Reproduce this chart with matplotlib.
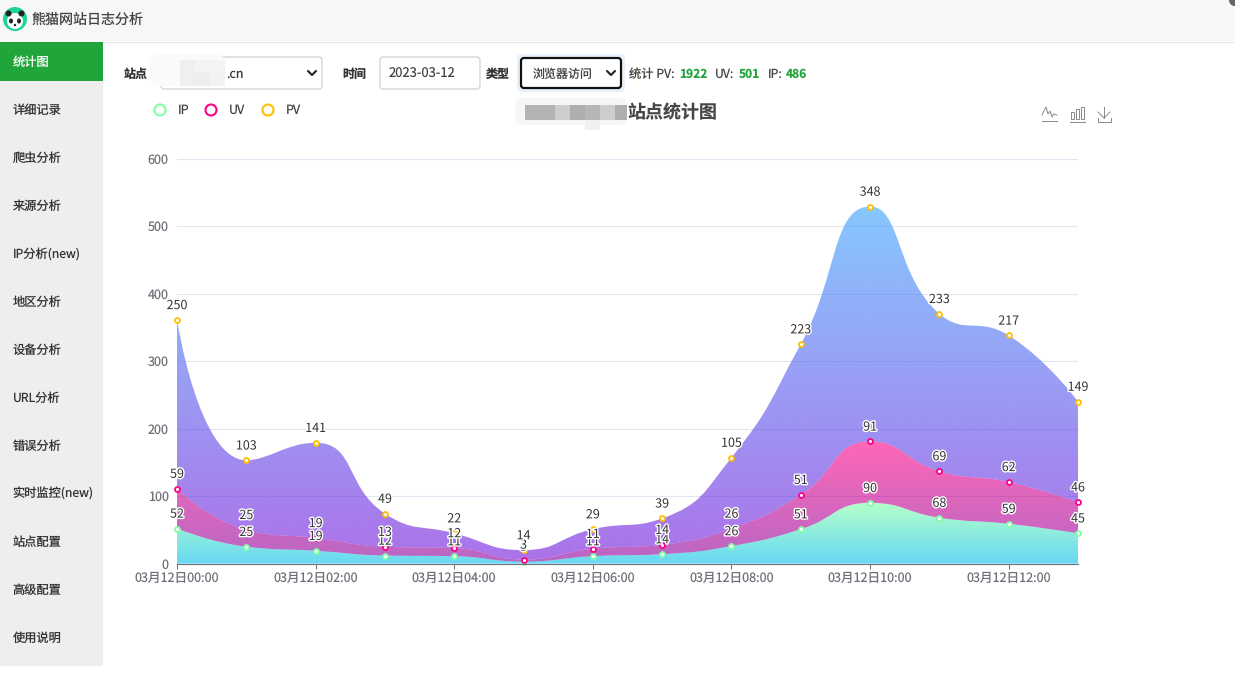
import numpy as np
import matplotlib
matplotlib.use("Agg")
import matplotlib.pyplot as plt
import matplotlib.patheffects as pe
from matplotlib.path import Path
from matplotlib.patches import PathPatch, Rectangle, Circle, FancyBboxPatch, Ellipse

plt.rcParams['font.family'] = ['Noto Sans CJK SC', 'DejaVu Sans']
plt.rcParams['text.hinting'] = 'no_hinting'
plt.rcParams['text.hinting_factor'] = 1

# ---------- data ----------
hours = ["03月12日%02d:00" % h for h in range(14)]
ip_vals = [52, 25, 19, 12, 11, 3, 11, 14, 26, 51, 90, 68, 59, 45]
uv_vals = [59, 25, 19, 13, 12, 3, 11, 14, 26, 51, 91, 69, 62, 46]
pv_vals = [250, 103, 141, 49, 22, 14, 29, 39, 105, 223, 348, 233, 217, 149]
y_ticks = [0, 100, 200, 300, 400, 500, 600]
menu_items = ["统计图", "详细记录", "爬虫分析", "来源分析", "IP分析(new)", "地区分析", "设备分析",
              "URL分析", "错误分析", "实时监控(new)", "站点配置", "高级配置", "使用说明"]
series_names = ["IP", "UV", "PV"]
line_colors = ["#80FFA5", "#FF0087", "#FFBF00"]
grad_top = [(128, 255, 165), (255, 0, 135), (55, 162, 255)]
grad_bot = [(1, 191, 236), (135, 0, 157), (116, 21, 219)]
area_alpha = 0.6

W, H = 1235, 691
fig = plt.figure(figsize=(W / 100, H / 100), dpi=100, facecolor="white")

# ---------- page overlay in pixel coordinates ----------
ui = fig.add_axes([0, 0, 1, 1], zorder=0)
ui.set_xlim(0, W)
ui.set_ylim(H, 0)
ui.axis("off")

def rect(x0, y0, x1, y1, fc, ec="none", lw=0, z=1):
    ui.add_patch(Rectangle((x0, y0), x1 - x0, y1 - y0, fc=fc, ec=ec, lw=lw, zorder=z))

def rbox(x0, y0, x1, y1, fc="white", ec="#cccccc", lw=0.8, r=3, z=2):
    ui.add_patch(FancyBboxPatch((x0 + r, y0 + r), x1 - x0 - 2 * r, y1 - y0 - 2 * r,
                                boxstyle="round,pad=%g,rounding_size=%g" % (r, r),
                                fc=fc, ec=ec, lw=lw, zorder=z))

def txt(x, y, s, size=12.2, color="#333333", weight="normal", ha="left", z=5):
    ui.text(x, y, s, fontsize=size * 0.72, color=color, fontweight=weight, ha=ha, va="center", zorder=z)

def chevron(cx, cy):
    ui.plot([cx - 4, cx, cx + 4], [cy - 2, cy + 2, cy - 2], color="#222222", lw=1.5, zorder=6,
            solid_capstyle="round", solid_joinstyle="round")

# header
rect(0, 0, W, 41, "#f7f7f7")
ui.plot([0, W], [41.5, 41.5], color="#e8e8e8", lw=0.8, zorder=2)
txt(31, 19.5, "熊猫网站日志分析", size=14, color="#444444")
# logo
ui.add_patch(Circle((15, 19), 12, fc="#1fd49a", ec="none", zorder=3))
ui.add_patch(Circle((15, 21), 8, fc="white", ec="none", zorder=4))
for cx in (8.5, 21.5):
    ui.add_patch(Circle((cx, 13.5), 3, fc="#222222", ec="none", zorder=5))
for cx in (11, 19):
    ui.add_patch(Ellipse((cx, 21), 4, 5, fc="#222222", ec="none", zorder=5))
ui.add_patch(Circle((15, 25), 1.2, fc="#222222", ec="none", zorder=5))
# corner dot
ui.add_patch(Circle((1235, 0), 7, fc="#666666", ec="white", lw=1.2, zorder=3))

# side menu
rect(0, 42, 103, 666, "#eeeeee")
rect(0, 42, 103, 81, "#20a53a", z=2)
for i, m in enumerate(menu_items):
    txt(12.5, 62 + 48 * i, m, color="white" if i == 0 else "#333333")

# form row
txt(124, 74.5, "站点", weight="bold", size=12)
rbox(161, 57, 322, 89)
ui.add_patch(FancyBboxPatch((150, 54), 76, 32, boxstyle="round,pad=0,rounding_size=12", fc="#fafafa", ec="none", zorder=3))
rect(180, 60, 195, 86, "#efefef", z=3)
rect(195, 60, 225, 72, "#f3f3f3", z=3)
rect(195, 72, 210, 86, "#eeeeee", z=3)
rect(210, 72, 225, 86, "#f2f2f2", z=3)
txt(226, 74.5, ".cn", size=12.5, color="#333333")
chevron(312, 73)
txt(342, 74.5, "时间", weight="bold", size=12)
rbox(380, 57, 480, 89)
txt(389, 74, "2023-03-12", size=13, color="#444444")
txt(486, 74.5, "类型", weight="bold", size=12)
rbox(517, 54, 625, 92, fc="#e8f1fb", ec="none", r=5, z=2)
rbox(521, 58, 621, 88, fc="white", ec="#111111", lw=1.6, r=3, z=3)
txt(533, 74.5, "浏览器访问", size=12, color="#444444")
chevron(611, 73)
txt(629, 74.5, "统计 PV:", size=12.3, color="#444444")
txt(679, 74.5, "1922", size=12, color="#20a53a", weight="bold")
txt(715, 74.5, "UV:", size=12.3, color="#444444")
txt(739, 74.5, "501", size=12, color="#20a53a", weight="bold")
txt(768, 74.5, "IP:", size=12.3, color="#444444")
txt(786, 74.5, "486", size=12, color="#20a53a", weight="bold")

# chart title with mosaic
ui.add_patch(FancyBboxPatch((515, 98), 112, 27, boxstyle="round,pad=0,rounding_size=8", fc="#f6f6f6", ec="none", zorder=3))
for x0, c in zip(range(525, 630, 15), ["#b4b4b4", "#b4b4b4", "#cdcdcd", "#aeaeae", "#b6b6b6", "#cdcdcd", "#aeaeae"]):
    rect(x0, 105, min(x0 + 15, 627), 120, c, z=3)
rect(585, 120, 600, 130, "#f0f0f0", z=3)
txt(627, 113, "站点统计图", size=18, color="#464646", weight="bold")

# legend
for cx, lx, name, col in zip((160, 211, 268), (178, 229, 286), series_names, line_colors):
    ui.add_patch(Circle((cx, 110), 5.5, fc="white", ec=col, lw=1.5, zorder=4))
    txt(lx, 110, name, size=12.5, color="#444444")

# toolbox icons
ic = "#888888"
ui.plot([1042, 1057], [121, 121], color=ic, lw=0.7, zorder=4)
ui.plot([1042, 1046, 1048, 1050, 1052, 1053.5, 1057], [115, 107, 114, 111, 117, 114, 115], color=ic, lw=0.7, zorder=4)
ui.plot([1070, 1085], [121.5, 121.5], color=ic, lw=0.7, zorder=4)
for x0, top in ((1071, 112), (1076, 109), (1081, 107)):
    ui.add_patch(Rectangle((x0, top), 3, 119 - top, fc="none", ec=ic, lw=0.7, zorder=4))
ui.plot([1104, 1104], [107, 118], color=ic, lw=0.7, zorder=4)
ui.plot([1098, 1104, 1110], [112, 118, 112], color=ic, lw=0.7, zorder=4)
ui.plot([1097.5, 1097.5, 1110.5, 1110.5], [118, 121.5, 121.5, 118], color=ic, lw=0.7, zorder=4)

# ---------- chart ----------
PL, PR, PT, PB = 177, 1078, 158.6, 563.6
ax = fig.add_axes([PL / W, (H - PB) / H, (PR - PL) / W, (PB - PT) / H], zorder=2)
ax.patch.set_alpha(0)
x = np.arange(len(hours))
sx = (PR - PL) / (len(hours) - 1)
sy = (PB - PT) / 600.0


def smooth_path(xs, ys, smooth=0.5):
    """Bezier control points in the manner of an ECharts smoothed line, in data coordinates."""
    px, py = np.asarray(xs, float) * sx, np.asarray(ys, float) * sy
    n = len(px)
    verts = [(px[0], py[0])]
    codes = [Path.MOVETO]
    c0x, c0y = px[0], py[0]
    for i in range(1, n):
        xx, yy = px[i], py[i]
        if i == n - 1:
            c1x, c1y, nx0, ny0 = xx, yy, xx, yy
        else:
            ax0, ay0 = px[i - 1], py[i - 1]
            bx, by = px[i + 1], py[i + 1]
            vx, vy = bx - ax0, by - ay0
            l0 = np.hypot(xx - ax0, yy - ay0)
            l1 = np.hypot(bx - xx, by - yy)
            r = l1 / (l0 + l1)
            nx0 = np.clip(xx + vx * smooth * r, min(bx, xx), max(bx, xx))
            ny0 = np.clip(yy + vy * smooth * r, min(by, yy), max(by, yy))
            vx, vy = nx0 - xx, ny0 - yy
            c1x = np.clip(xx - vx * l0 / l1, min(ax0, xx), max(ax0, xx))
            c1y = np.clip(yy - vy * l0 / l1, min(ay0, yy), max(ay0, yy))
            vx, vy = xx - c1x, yy - c1y
            nx0 = xx + vx * l1 / l0
            ny0 = yy + vy * l1 / l0
        verts += [(c0x, c0y), (c1x, c1y), (xx, yy)]
        codes += [Path.CURVE4] * 3
        c0x, c0y = nx0, ny0
    v = np.array(verts)
    v[:, 0] /= sx
    v[:, 1] /= sy
    return v, codes


stack = np.zeros(len(x))
tops = []
for k, vals in enumerate([ip_vals, uv_vals, pv_vals]):
    upper = stack + np.array(vals, float)
    uv, uc = smooth_path(x, upper)
    lv, lc = smooth_path(x[::-1], stack[::-1])
    verts = np.vstack([uv, lv])
    codes = uc + [Path.LINETO] + lc[1:]
    path = Path(verts, codes)
    ybot, ytop = stack.min(), upper.max()
    t = np.linspace(0, 1, 256)[:, None]
    rgb = (np.array(grad_top[k]) * (1 - t) + np.array(grad_bot[k]) * t) / 255.0
    rgba = np.dstack([rgb[:, None, :], np.full((256, 1, 1), area_alpha)])
    im = ax.imshow(rgba, extent=(x[0], x[-1], ybot, ytop), aspect="auto", origin="upper",
                   interpolation="bilinear", zorder=2 + k * 0.1)
    clip = PathPatch(path, transform=ax.transData, fc="none", ec="none")
    ax.add_patch(clip)
    im.set_clip_path(clip)
    ax.plot(x, upper, ls="none", marker="o", ms=3.6, mfc="white", mec=line_colors[k], mew=1.3,
            zorder=4 + k * 0.1, clip_on=False)
    tops.append(upper)
    stack = upper

for k, vals in enumerate([ip_vals, uv_vals, pv_vals]):
    for xi, yi, v in zip(x, tops[k], vals):
        ax.annotate(str(v), (xi, yi), xytext=(0, 14.5), textcoords="offset pixels", ha="center", va="center",
                    fontsize=12.5 * 0.72, color="#333333", zorder=6 + k * 0.1, annotation_clip=False,
                    path_effects=[pe.withStroke(linewidth=2.0, foreground="white")])

ax.set_xlim(x[0], x[-1])
ax.set_ylim(0, 600)
ax.set_yticks(y_ticks)
ax.set_xticks(x[::2])
ax.set_xticklabels(hours[::2], fontsize=12.6 * 0.72, color="#6E7079")
ax.tick_params(axis="y", length=0, labelsize=12.6 * 0.72, labelcolor="#6E7079", pad=6)
ax.tick_params(axis="x", length=5 * 0.72, width=0.72, color="#6E7079", pad=2)
ax.grid(axis="y", color="#E0E6F1", lw=0.75, zorder=1)
ax.set_axisbelow(True)
for s in ("top", "right", "left"):
    ax.spines[s].set_visible(False)
ax.spines["bottom"].set_color("#6E7079")
ax.spines["bottom"].set_linewidth(0.8)
ax.spines["bottom"].set_zorder(5)

fig.savefig("out.png", dpi=100, facecolor="white")
